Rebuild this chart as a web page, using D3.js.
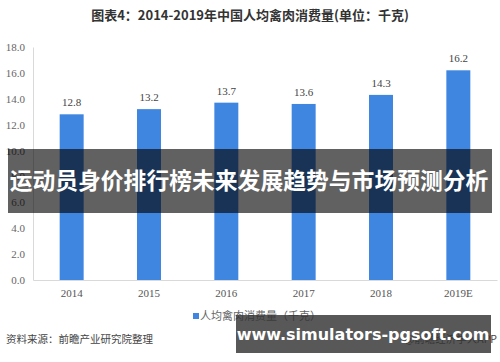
<!DOCTYPE html>
<html><head><meta charset="utf-8">
<script src="https://cdn.jsdelivr.net/npm/d3@7"></script>
<style>body{margin:0;background:#fff}svg{display:block}</style>
</head><body><svg id="c" width="500" height="362"></svg>
<script>
const categories = ["2014","2015","2016","2017","2018","2019E"];
const values = [12.8, 13.2, 13.7, 13.6, 14.3, 16.2];
const yTicks = [0,2,4,6,8,10,12,14,16,18];
const title = "图表4：2014-2019年中国人均禽肉消费量(单位：千克)";
const legendLabel = "人均禽肉消费量（千克）";
const sourceText = "资料来源：前瞻产业研究院整理";
const creditText = "@前瞻经济学人APP";
const bannerText = "运动员身价排行榜未来发展趋势与市场预测分析";
const urlText = "www.simulators-pgsoft.com";

const svg = d3.select("#c");
const m = {l:33, r:3, t:47, b:82};
const W = 500, H = 362;
const x = d3.scaleBand().domain(categories).range([m.l, W-m.r]).paddingInner(0.69).paddingOuter(0.345);
const y = d3.scaleLinear().domain([0,18]).range([H-m.b, m.t]);
const serif = "'Liberation Serif','DejaVu Serif',serif";
const cjk = "'Noto Sans CJK SC','Noto Sans',sans-serif";

svg.append("text").attr("x",250).attr("y",20).attr("text-anchor","middle")
  .attr("font-family",cjk).attr("font-weight","bold").attr("font-size",13).attr("fill","#333").text(title);

// y axis
const ya = svg.append("g").attr("transform",`translate(${m.l},0)`)
  .call(d3.axisLeft(y).tickValues(yTicks).tickFormat(d3.format(".1f")).tickSize(0).tickPadding(8));
ya.select(".domain").attr("stroke","#d9d9d9");
ya.selectAll("text").attr("font-family",serif).attr("font-size",11).attr("fill","#666");

// x axis
const xa = svg.append("g").attr("transform",`translate(0,${y(0)})`)
  .call(d3.axisBottom(x).tickSize(0).tickPadding(9));
xa.select(".domain").attr("stroke","#d9d9d9");
xa.selectAll("text").attr("font-family",serif).attr("font-size",11).attr("fill","#555");

svg.selectAll("rect.bar").data(values).join("rect").attr("class","bar")
  .attr("x",(d,i)=>x(categories[i])).attr("width",x.bandwidth())
  .attr("y",d=>y(d)).attr("height",d=>y(0)-y(d)).attr("fill","#3f86e0");

svg.selectAll("text.val").data(values).join("text").attr("class","val")
  .attr("x",(d,i)=>x(categories[i])+x.bandwidth()/2).attr("y",d=>y(d)-8)
  .attr("text-anchor","middle").attr("font-family",serif).attr("font-size",11).attr("fill","#444")
  .text(d=>d.toFixed(1));

// legend
svg.append("rect").attr("x",193).attr("y",313).attr("width",6).attr("height",6).attr("fill","#3f86e0");
svg.append("text").attr("x",200).attr("y",320).attr("font-family",cjk).attr("font-size",11).attr("fill","#666").text(legendLabel);

svg.append("text").attr("x",6).attr("y",343).attr("font-family",cjk).attr("font-size",10.5).attr("fill","#444").text(sourceText);
svg.append("text").attr("x",497).attr("y",343).attr("text-anchor","end").attr("font-family",cjk).attr("font-size",10.5).attr("fill","#444").text(creditText);

// banner overlay
svg.append("rect").attr("x",8).attr("y",149).attr("width",484).attr("height",64).attr("fill","#000").attr("opacity",0.62);
svg.append("text").attr("x",249).attr("y",189).attr("text-anchor","middle").attr("font-family",cjk)
  .attr("font-weight","bold").attr("font-size",22.8).attr("fill","#fff").text(bannerText);

svg.append("rect").attr("x",236).attr("y",315).attr("width",255).attr("height",38).attr("fill","#333").attr("opacity",0.82);
svg.append("text").attr("x",363).attr("y",340).attr("text-anchor","middle").attr("font-family","'DejaVu Sans',sans-serif")
  .attr("font-weight","bold").attr("font-size",16).attr("fill","#fff").text(urlText);
</script></body></html>
